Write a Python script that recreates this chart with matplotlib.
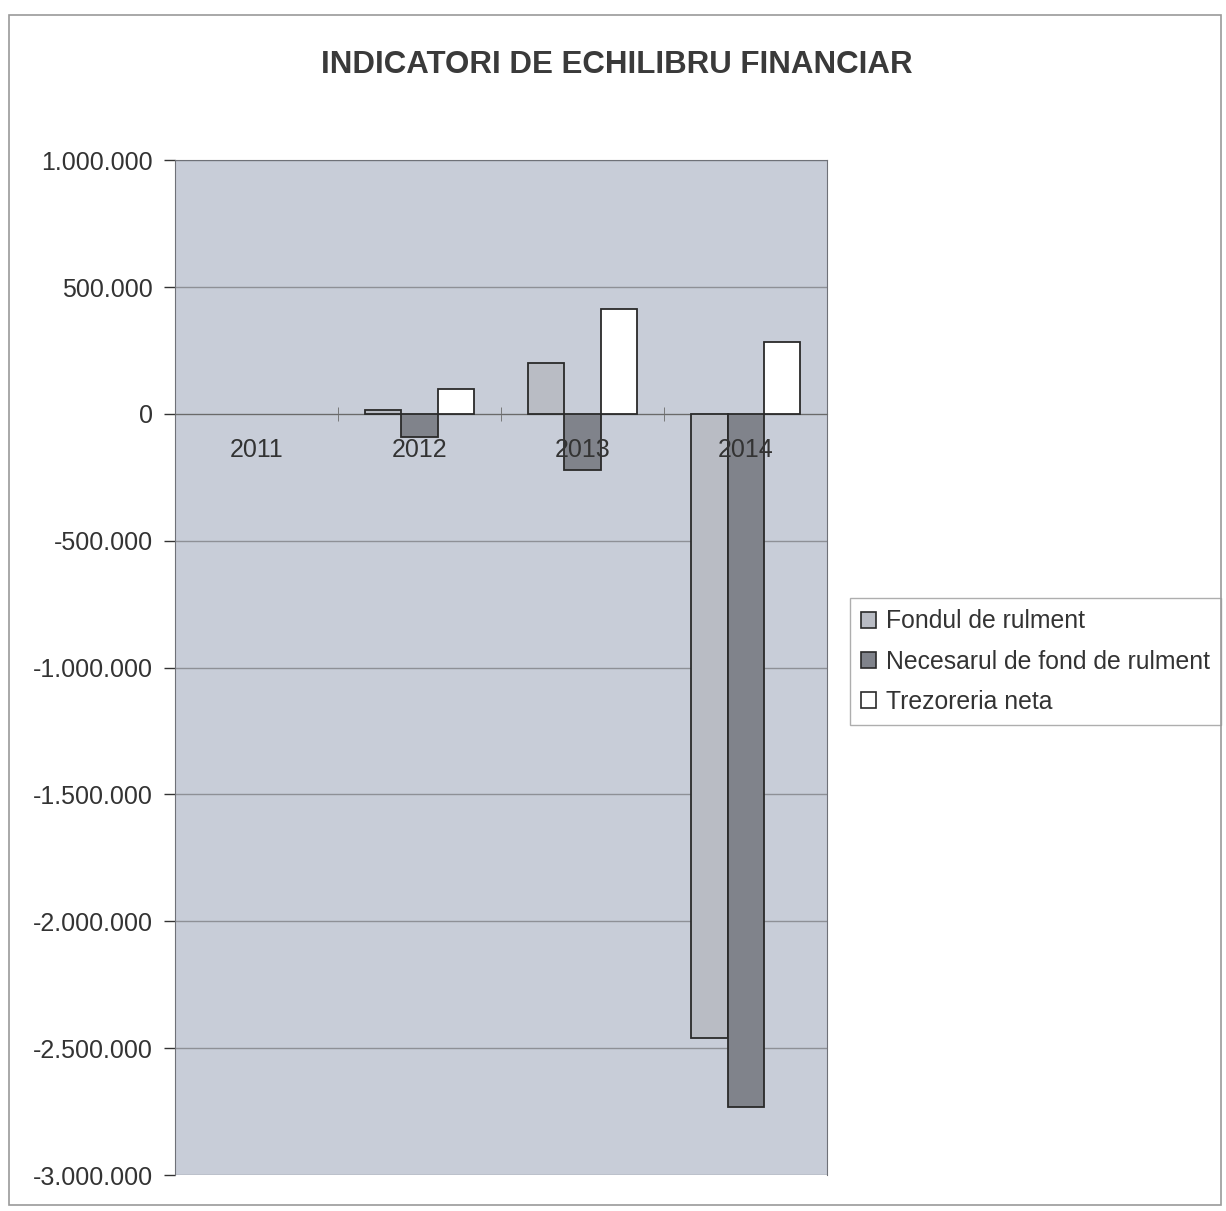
import matplotlib.pyplot as plt
from matplotlib.patches import Rectangle, Patch
from matplotlib.ticker import FuncFormatter, MultipleLocator
import numpy as np

plt.rcParams['font.family'] = ['Liberation Sans', 'DejaVu Sans']

# data
years = ['2011', '2012', '2013', '2014']
fondul = [0, 15000, 200000, -2460000]
necesarul = [0, -90000, -222000, -2730000]
trezoreria = [0, 100000, 415000, 284000]
series_names = ['Fondul de rulment', 'Necesarul de fond de rulment', 'Trezoreria neta']
colors = ['#b9bcc4', '#80838b', 'white']

fig = plt.figure(figsize=(12.26, 12.11), dpi=100)
ax = fig.add_axes([0.1427, 0.0297, 0.532, 0.838])

# outer chart frame
fig.patches.append(Rectangle((0.007, 0.005), 0.989, 0.983, transform=fig.transFigure,
                             fill=False, edgecolor='#9a9a9a', linewidth=1.2))

ax.set_facecolor('#c8cdd8')
x = np.arange(len(years))
w = 1 / 4.5


def lw(vals):
    # Excel draws nothing for zero-height bars
    return [1.3 if v != 0 else 0 for v in vals]


for off, vals, c in zip([-w, 0, w], [fondul, necesarul, trezoreria], colors):
    ax.bar(x + off, vals, w, color=c, edgecolor='#2a2a2a', linewidth=lw(vals), zorder=3)

ax.set_xlim(-0.5, 3.5)
ax.set_ylim(-3000000, 1000000)
ax.yaxis.set_major_locator(MultipleLocator(500000))
ax.yaxis.set_major_formatter(FuncFormatter(lambda v, p: f'{int(v):,}'.replace(',', '.')))
ax.grid(axis='y', color='#8e9096', linewidth=1.0, zorder=1)
ax.tick_params(axis='y', labelsize=18, colors='#333333', length=8, width=1, pad=8, labelcolor='#333333')

ax.spines['bottom'].set_position(('data', 0))
ax.spines['bottom'].set_color('#6a6a6a')
for s in ['left', 'top', 'right']:
    ax.spines[s].set_color('#6f7178')
ax.set_xticks(x)
ax.set_xticklabels([])
ax.tick_params(axis='x', which='major', length=0)
ax.set_xticks(np.arange(0.5, 3.5, 1), minor=True)
ax.tick_params(axis='x', which='minor', length=10, direction='inout', color='#6a6a6a')

# category labels sit just below the zero line, on top of the bars
for xi, lab in zip(x, years):
    ax.annotate(lab, (xi, 0), xytext=(0, -26), textcoords='offset points', ha='center', va='center',
                fontsize=18, color='#333333', zorder=5)

fig.text(0.503, 0.946, 'INDICATORI DE ECHILIBRU FINANCIAR', ha='center', va='center',
         fontsize=22.5, fontweight='bold', color='#3a3a3a')

handles = [Patch(facecolor=c, edgecolor='#2a2a2a', linewidth=1.2) for c in colors]
leg = ax.legend(handles, series_names, loc='center left', bbox_to_anchor=(1.035, 0.506), fontsize=17.8,
                frameon=True, fancybox=False, edgecolor='#9a9a9a', handlelength=0.6, handleheight=0.6,
                handletextpad=0.4, borderpad=0.45, labelspacing=0.65, labelcolor='#333333',
                borderaxespad=0)
leg.get_frame().set_linewidth(1.0)

fig.savefig('out.png', dpi=100)
